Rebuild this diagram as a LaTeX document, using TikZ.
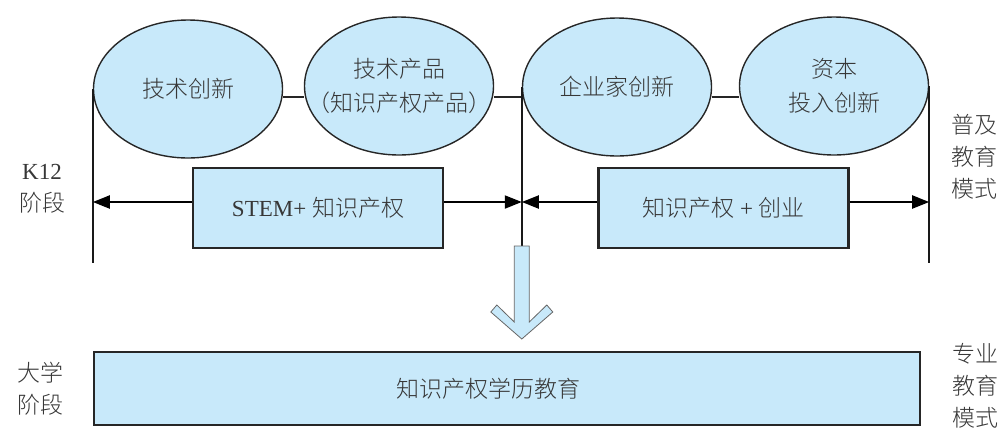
\documentclass[tikz,border=0pt]{standalone}
\usepackage{fontspec}
\setmainfont{Liberation Serif}
\newfontfamily\cjk{Noto Sans CJK SC Light}
\usetikzlibrary{shapes.geometric,arrows.meta}
\definecolor{paleblue}{RGB}{200,233,250}
\definecolor{inkgray}{RGB}{55,55,55}

\begin{document}
\begin{tikzpicture}[x=1pt, y=-1pt,
    font=\fontsize{23}{33}\selectfont, text=inkgray,
    caption/.style={align=center, font=\fontsize{23}{34}\selectfont\cjk},
    bubble/.style={ellipse, draw=black!85, line width=1.4pt, fill=paleblue,
      minimum width=189pt, minimum height=138pt, inner sep=0pt,
      label={[caption]center:{#1}}},
    band/.style={rectangle, draw=black!85, line width=2.4pt, fill=paleblue,
      minimum width=250pt, minimum height=80pt},
    side/.style={align=center, font=\fontsize{23}{32}\selectfont\cjk},
    rail/.style={line width=2pt, draw=black!90},
    link/.style={line width=1.4pt, draw=black!85},
    span/.style={line width=2pt, -{Triangle[length=17pt,width=13pt]}},
    bigarrow/.style={fill=paleblue, draw=black!60, line width=0.8pt, line join=miter}
  ]
  \useasboundingbox (0,0) rectangle (1008,432);

  % Rows used by the connectors
  \coordinate (linkrow) at (0,97);
  \coordinate (spanrow) at (0,202);
  \coordinate (railbot) at (0,263);

  % The four stages of innovation
  \node[bubble={技术创新}] (tech) at (188,89) {};
  \node[bubble={技术产品\\（知识产权产品）}] (product) at (399,86) {};
  \node[bubble={企业家创新}] (entre) at (617,87) {};
  \node[bubble={资本\\投入创新}] (capital) at (834,86) {};

  % Links between the stages
  \draw[link] (tech.east |- linkrow) -- (product.west |- linkrow);
  \draw[link] (product.east |- linkrow) -- (entre.west |- linkrow);
  \draw[link] (entre.east |- linkrow) -- (capital.west |- linkrow);

  % Course boxes of the K12 stage
  \node[band] (stem) at (318,208) {STEM+ {\cjk 知识产权}};
  \node[band] (venture) at (723.5,208) {{\cjk 知识产权} + {\cjk 创业}};

  % Vertical rails
  \coordinate (shafttop) at (entre.west |- 0,246);
  \draw[rail] (tech.west) -- (tech.west |- railbot);
  \draw[rail] (entre.west) -- (shafttop);
  \draw[rail] (capital.east) -- (capital.east |- railbot);

  % Spans from the boxes to the rails
  \draw[span] (stem.west |- spanrow) -- (tech.west |- spanrow);
  \draw[span] (stem.east |- spanrow) -- (entre.west |- spanrow);
  \draw[span] (venture.west |- spanrow) -- (entre.west |- spanrow);
  \draw[span] (venture.east |- spanrow) -- (capital.east |- spanrow);

  % Big arrow down to the university stage
  \draw[bigarrow] (shafttop) ++(-7.5,0) -- ++(0,76) -- ++(-17.5,-17) -- ++(-6,7)
    -- ++(31,27) -- ++(31,-27) -- ++(-6,-7) -- ++(-17.5,17) -- ++(0,-76) -- cycle;

  % University stage
  \node[band, minimum width=826pt, minimum height=73pt] (degree) at (507,388.5)
    {\cjk 知识产权学历教育\hspace*{38pt}};

  % Side labels
  \node[side] (k12) at (42,189) {{\rmfamily K12}\\阶段};
  \node[side] (popular) at (974,157) {普及\\教育\\模式};
  \node[side] (college) at (40,388.5) {大学\\阶段};
  \node[side] (major) at (975,386) {专业\\教育\\模式};

\end{tikzpicture}
\end{document}
